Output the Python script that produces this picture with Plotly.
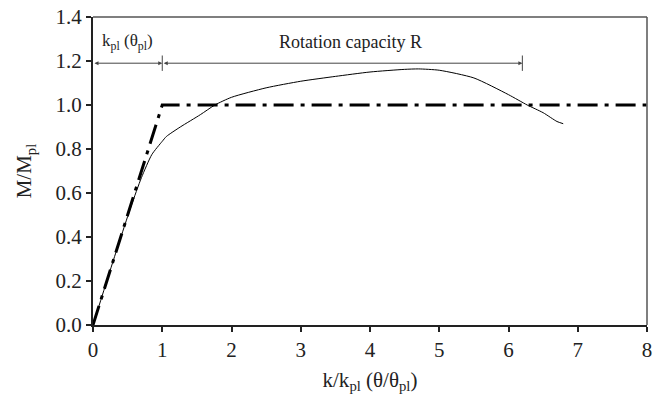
import plotly.graph_objects as go

# Measured moment-rotation curve
k_curve = [0, 0.3, 0.55, 0.7, 0.85, 1.0, 1.06, 1.26, 1.55, 1.76, 2.0, 2.5, 3.0, 3.5, 4.0, 4.5, 4.7, 5.0, 5.5, 6.0, 6.27, 6.5, 6.7, 6.79]
m_curve = [0, 0.3, 0.54, 0.67, 0.775, 0.835, 0.857, 0.90, 0.956, 1.0, 1.035, 1.078, 1.108, 1.13, 1.15, 1.162, 1.164, 1.158, 1.123, 1.047, 1.0, 0.965, 0.925, 0.915]

# Idealised bilinear curve
k_ideal = [0, 1.0, 8.0]
m_ideal = [0, 1.0, 1.0]

x_ticks = [0, 1, 2, 3, 4, 5, 6, 7, 8]
y_ticks = [0.0, 0.2, 0.4, 0.6, 0.8, 1.0, 1.2, 1.4]
y_tick_labels = ["0.0", "0.2", "0.4", "0.6", "0.8", "1.0", "1.2", "1.4"]

k_pl = 1.0
k_R_end = 6.2
arrow_y = 1.19

FONT = "Liberation Serif, Times New Roman, serif"

fig = go.Figure()
fig.add_trace(go.Scatter(x=k_ideal, y=m_ideal, mode="lines",
                         line=dict(color="black", width=3, dash="20px,7px,4px,7px"),
                         showlegend=False, hoverinfo="skip"))
fig.add_trace(go.Scatter(x=k_curve, y=m_curve, mode="lines", line_shape="spline",
                         line=dict(color="black", width=1, smoothing=0.6),
                         showlegend=False, hoverinfo="skip"))

arrow_color = "#444444"
for x0, x1 in [(0, k_pl), (k_pl, k_R_end)]:
    fig.add_annotation(x=x1, y=arrow_y, ax=x0, ay=arrow_y, xref="x", yref="y",
                       axref="x", ayref="y", text="", showarrow=True,
                       arrowhead=2, arrowsize=0.8, arrowwidth=1, arrowcolor=arrow_color,
                       arrowside="end+start", standoff=0, startstandoff=0)
for xv in [k_pl, k_R_end]:
    fig.add_shape(type="line", x0=xv, x1=xv, y0=arrow_y - 0.035, y1=arrow_y + 0.035,
                  xref="x", yref="y", line=dict(color=arrow_color, width=1))

fig.add_annotation(x=0.5, y=1.285, xref="x", yref="y", showarrow=False,
                   text="k<sub>pl</sub> (θ<sub>pl</sub>)",
                   font=dict(family=FONT, size=17, color="#222"))
fig.add_annotation(x=3.72, y=1.285, xref="x", yref="y", showarrow=False,
                   text="Rotation capacity R",
                   font=dict(family=FONT, size=18, color="#222"))

# top and right frame lines
fig.add_shape(type="line", xref="paper", yref="paper", x0=0, x1=1, y0=1, y1=1,
              line=dict(color="#555", width=1.5))
fig.add_shape(type="line", xref="paper", yref="paper", x0=1, x1=1, y0=0, y1=1,
              line=dict(color="#555", width=1.5))

fig.update_layout(
    width=653, height=397,
    margin=dict(l=93, r=6, t=17, b=72, autoexpand=False),
    plot_bgcolor="white", paper_bgcolor="white",
    font=dict(family=FONT, size=21, color="#222"),
)
fig.update_xaxes(range=[0, 8], tickvals=x_ticks, showgrid=False, zeroline=False,
                 showline=True, linecolor="#222", linewidth=2,
                 ticks="outside", ticklen=5, tickwidth=1.5, tickcolor="#222",
                 tickfont=dict(size=21), automargin=False,
                 title=dict(text="k/k<sub>pl</sub> (θ/θ<sub>pl</sub>)", font=dict(size=21), standoff=11))
fig.update_yaxes(range=[0, 1.4], tickvals=y_ticks, ticktext=y_tick_labels, showgrid=False,
                 zeroline=False, showline=True, linecolor="#222", linewidth=2,
                 ticks="outside", ticklen=5, tickwidth=1.5, tickcolor="#222",
                 tickfont=dict(size=21), automargin=False,
                 title=dict(text="M/M<sub>pl</sub>", font=dict(size=21), standoff=18))

fig.write_html("out.html", config={"displayModeBar": False},
               post_script="document.body.style.margin='0';")
